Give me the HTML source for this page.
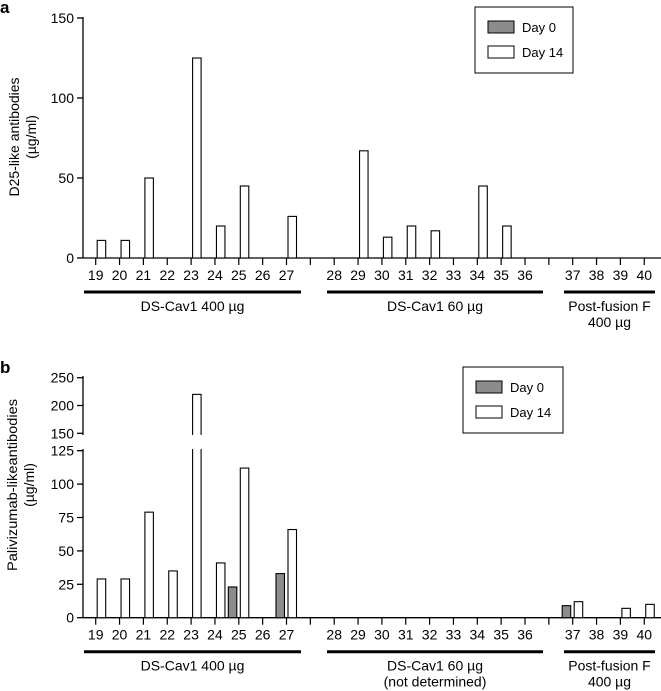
<!DOCTYPE html>
<html><head><meta charset="utf-8"><style>
html,body{margin:0;padding:0;background:#fff;}
svg{display:block;font-family:"Liberation Sans",sans-serif;}
</style></head><body>
<svg id="chart" width="661" height="691" viewBox="0 0 661 691" xmlns="http://www.w3.org/2000/svg"></svg>
<script>
const animals = ["19","20","21","22","23","24","25","26","27","","28","29","30","31","32","33","34","35","36","","37","38","39","40"];
const aDay0 = [0,0,0,0,0,0,0,0,0,null,0,0,0,0,0,0,0,0,0,null,0,0,0,0];
const aDay14 = [11,11,50,0,125,20,45,0,26,null,0,67,13,20,17,0,45,20,0,null,0,0,0,0];
const bDay0 = [0,0,0,0,0,0,23,0,33,null,0,0,0,0,0,0,0,0,0,null,9,0,0,0];
const bDay14 = [29,29,79,35,220,41,112,0,66,null,0,0,0,0,0,0,0,0,0,null,12,0,7,10];
const aTicks = [0,50,100,150];
const bTicksLow = [0,25,50,75,100,125];
const bTicksHigh = [150,200,250];

const NS="http://www.w3.org/2000/svg";
const svg=document.getElementById('chart');
function el(tag,attrs,parent,text){const e=document.createElementNS(NS,tag);for(const k in attrs)e.setAttribute(k,attrs[k]);if(text!==undefined)e.textContent=text;(parent||svg).appendChild(e);return e;}
const AX=83, X0=95.7, DX=23.85;
function xs(i){return X0+DX*i;}

function panel(p){
  const g=el('g',{});
  
  
  const t=el('text',{x:0,y:p.letterY,'font-size':17,'font-weight':'bold'},g,p.letter);
  
  
  p.axisSegs.forEach(s=>{const l=el('line',{x1:AX,x2:AX,y1:s[0],y2:s[1],stroke:'#000','stroke-width':1.3},g);
    
    });
  p.ticks.forEach(tk=>{const y=p.y(tk);
    el('line',{x1:AX-6,x2:AX,y1:y,y2:y,stroke:'#000','stroke-width':1.3},g);
    const tl=el('text',{x:AX-9,y:y+5,'font-size':14,'text-anchor':'end'},g,tk);
    
    });
  const yt=el('text',{transform:`translate(${p.titleX},${p.titleY}) rotate(-90)`,'font-size':14,'text-anchor':'middle'},g);
  
  
  const t1=el('tspan',{x:0,y:0},yt,p.title);
  if(p.titleLen){t1.setAttribute('textLength',p.titleLen);t1.setAttribute('lengthAdjust','spacingAndGlyphs');}
  el('tspan',{x:0,dy:17},yt,'(µg/ml)');
  const base=p.y(0);
  const xa=el('line',{x1:AX,x2:661,y1:base,y2:base,stroke:'#000','stroke-width':1.3},g);
  
  
  animals.forEach((a,i)=>{const x=xs(i);
    el('line',{x1:x,x2:x,y1:base,y2:base+7,stroke:'#000','stroke-width':1.2},g);
    if(a){const tl=el('text',{x:x,y:base+22,'font-size':14,'text-anchor':'middle'},g,a);
      
      }
    const d0=p.d0[i], d14=p.d14[i];
    if(d0){const y=p.y(d0);const r=el('rect',{x:x-10.5,y:y,width:8.5,height:base-y,fill:'#8c8c8c',stroke:'#000','stroke-width':1.1},g);
      
      }
    if(d14){const y=p.y(d14);const r=el('rect',{x:x+1.5,y:y,width:8.5,height:base-y,fill:'#fff',stroke:'#000','stroke-width':1.1},g);
      
      
      if(p.gap&&d14>p.gapVal){el('rect',{x:x,y:p.gap[0],width:12,height:p.gap[1]-p.gap[0],fill:'#fff'},g);}}
  });
  const groups=[[84,301,p.g1],[327,543,p.g2],[564,655,p.g3]];
  groups.forEach(gr=>{const l=el('line',{x1:gr[0],x2:gr[1],y1:base+34,y2:base+34,stroke:'#000','stroke-width':3},g);
    
    
    gr[2].forEach((s,k)=>{const tl=el('text',{x:(gr[0]+gr[1])/2,y:base+53+k*16,'font-size':14,'text-anchor':'middle'},g,s);
      
      });});
  const L=p.legend;
  const lg=el('g',{},g);
  
  
  el('rect',{x:L[0],y:L[1],width:L[2],height:L[3],fill:'#fff',stroke:'#000','stroke-width':1},lg);
  const e0=el('rect',{x:L[0]+13,y:L[1]+14,width:26,height:12,fill:'#8c8c8c',stroke:'#000','stroke-width':1},lg);
  
  
  el('text',{x:L[0]+47,y:L[1]+25,'font-size':13},lg,'Day 0');
  const e1=el('rect',{x:L[0]+13,y:L[1]+39,width:26,height:12,fill:'#fff',stroke:'#000','stroke-width':1},lg);
  
  
  el('text',{x:L[0]+47,y:L[1]+50,'font-size':13},lg,'Day 14');
}
const aY=v=>258-v*1.6;
panel({name:'panel-a',letter:'a',letterY:13,y:aY,axisSegs:[[17,258]],ticks:aTicks,title:'D25-like antibodies',titleX:19,titleY:137,
  d0:aDay0,d14:aDay14,g1:['DS-Cav1 400 µg'],g2:['DS-Cav1 60 µg'],g3:['Post-fusion F','400 µg'],legend:[475,7,98,66]});
const bY=v=> v<=125 ? 617.7-v*1.336 : 433.3-(v-150)*0.556;
panel({name:'panel-b',letter:'b',letterY:373,y:bY,axisSegs:[[376,435],[449,617.7]],ticks:bTicksLow.concat(bTicksHigh),title:'Palivizumab-likeantibodies',titleLen:172,titleX:17,titleY:485,
  d0:bDay0,d14:bDay14,gap:[435,449],gapVal:125,g1:['DS-Cav1 400 µg'],g2:['DS-Cav1 60 µg','(not determined)'],g3:['Post-fusion F','400 µg'],legend:[463,367,100,66]});
</script>
</body></html>
